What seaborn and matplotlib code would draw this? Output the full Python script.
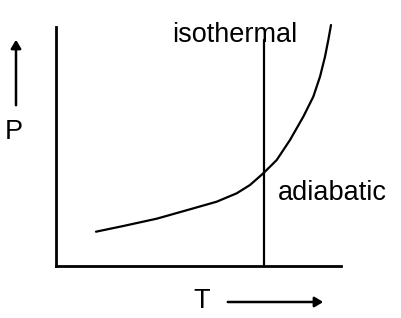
import matplotlib
matplotlib.use("Agg")
import matplotlib.pyplot as plt
import seaborn as sns
import pandas as pd

sns.set_theme(style="white")
plt.rcParams['font.family'] = ['Liberation Sans', 'DejaVu Sans']

W, H = 402, 318
# curve (adiabatic) read in pixel-like units: T, P (P measured downward, flipped below)
adiabatic_T = [96, 123.3, 156.7, 190, 216.7, 236.7, 250, 263.3, 270, 276.7, 290, 303.3, 313.3, 320, 325, 328.3, 331]
adiabatic_Py = [231.7, 226, 218.7, 209.3, 201.7, 193.3, 185, 173.3, 166.7, 160, 140, 116.7, 96.7, 76.7, 56.7, 40, 25]
adiabatic_P = [H - y for y in adiabatic_Py]
# isothermal vertical line
isothermal_T = [264, 264]
isothermal_P = [H - 266, H - 40]

labels = {"iso": "isothermal", "adi": "adiabatic", "x": "T", "y": "P"}

fig = plt.figure(figsize=(W / 100, H / 100), dpi=100)
x0, x1, y0, y1 = 56, 341, 266, 27
ax = fig.add_axes([x0 / W, (H - y0) / H, (x1 - x0) / W, (y0 - y1) / H])
ax.set_xlim(x0, x1)
ax.set_ylim(H - y0, H - y1)

df_a = pd.DataFrame({"T": adiabatic_T, "P": adiabatic_P})
df_i = pd.DataFrame({"T": isothermal_T, "P": isothermal_P})
sns.lineplot(data=df_a, x="T", y="P", sort=False, estimator=None, color="black", lw=1.6, ax=ax)
sns.lineplot(data=df_i, x="T", y="P", sort=False, estimator=None, color="black", lw=1.6, ax=ax)
for ln in ax.lines:
    ln.set_solid_joinstyle("round")
    ln.set_clip_on(False)

for s in ["top", "right"]:
    ax.spines[s].set_visible(False)
for s in ["left", "bottom"]:
    ax.spines[s].set_color("black")
    ax.spines[s].set_linewidth(2)
ax.set_xticks([])
ax.set_yticks([])
ax.set_xlabel("")
ax.set_ylabel("")

fs = 19.5
fig.text(235 / W, (H - 42) / H, labels["iso"], fontsize=fs, ha="center", va="baseline", color="black")
fig.text(332 / W, (H - 200) / H, labels["adi"], fontsize=fs, ha="center", va="baseline", color="black")
fig.text(13.5 / W, (H - 139) / H, labels["y"], fontsize=fs, ha="center", va="baseline", color="black")
fig.text(201.5 / W, (H - 308) / H, labels["x"], fontsize=fs, ha="center", va="baseline", color="black")

fig.patches.append(matplotlib.patches.FancyArrowPatch(
    (16 / W, (H - 108) / H), (16 / W, (H - 37) / H), transform=fig.transFigure,
    arrowstyle="-|>,head_length=5,head_width=3", color="black", lw=1.8, mutation_scale=1))
fig.patches.append(matplotlib.patches.FancyArrowPatch(
    (225 / W, (H - 302) / H), (326 / W, (H - 302) / H), transform=fig.transFigure,
    arrowstyle="-|>,head_length=5,head_width=3", color="black", lw=1.8, mutation_scale=1))

fig.savefig("out.png", dpi=100, facecolor="white")
